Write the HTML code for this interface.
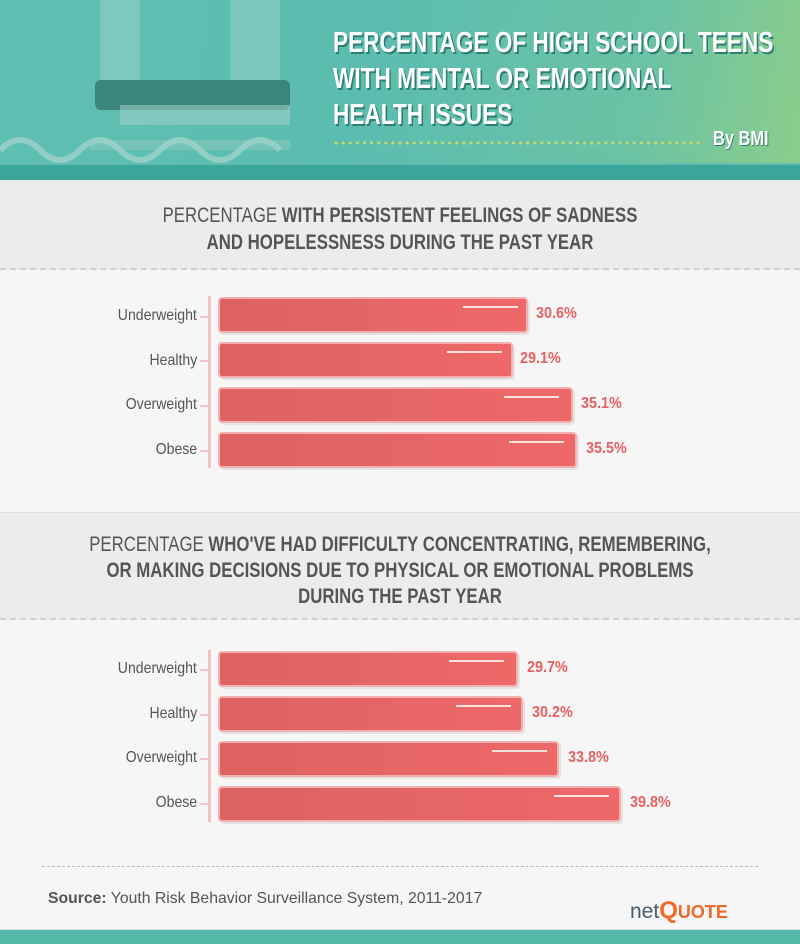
<!DOCTYPE html>
<html><head><meta charset="utf-8"><style>
*{margin:0;padding:0;box-sizing:border-box}
body{width:800px;height:944px;position:relative;overflow:hidden;background:#f6f6f6;font-family:"Liberation Sans",sans-serif}
.hdr{position:absolute;left:0;top:0;width:800px;height:180px;background:linear-gradient(100deg,#5fbfb3 0%,#5bbcb0 45%,#6cc3a4 80%,#8ccd8a 100%)}
.hdr .band{position:absolute;left:0;top:165px;width:800px;height:15px;background:#3aa69a}
.hdr .band2{position:absolute;left:0;top:163px;width:800px;height:3px;background:#62bdb0}
.title{position:absolute;left:333px;top:25px;color:#fff;font-weight:bold;font-size:29px;line-height:36px;text-shadow:2px 2px 0 #2e7d74;white-space:nowrap;transform:scaleX(0.78);transform-origin:left top}
.by{position:absolute;left:713px;top:128px;color:#fff;font-weight:bold;font-size:20px;text-shadow:1px 1px 0 #2e7d74;white-space:nowrap;transform:scaleX(0.82);transform-origin:left top}
.sec{position:absolute;left:0;width:800px;background:#ececec;border-bottom:2px dashed #cfcfcf;color:#555;font-size:21px;font-weight:bold}
.sec div{white-space:nowrap;text-align:center;transform:scaleX(0.8);transform-origin:center top}
.sec span{font-weight:normal}
.lab{position:absolute;right:603px;font-size:16px;color:#555;text-align:right;white-space:nowrap;transform:scaleX(0.88);transform-origin:right top}
.axis{position:absolute;left:208px;width:3px;background:#f3c3c3}
.tick{position:absolute;left:200px;width:8px;height:2px;background:#f3c3c3}
.bar{position:absolute;left:218px;height:36px;border-radius:4px;background:linear-gradient(90deg,#dd6262,#ee6868);border:2px solid #f4b0b0;box-shadow:2px 2px 0 #e4e4e4}
.hl{position:absolute;top:7px;height:2px;width:55px;background:#fbe0e0}
.val{position:absolute;font-size:16px;font-weight:bold;color:#e86161;white-space:nowrap;transform:scaleX(0.9);transform-origin:left top}
</style></head><body>
<div class="hdr">
<svg width="330" height="165" style="position:absolute;left:0;top:0">
<rect x="90" y="140" width="200" height="10" fill="#8fcac0" opacity=".5"/>
<rect x="95" y="80" width="195" height="30" rx="6" fill="#2f6d67" opacity=".7"/>
<rect x="120" y="105" width="170" height="20" fill="#a9d3cc" opacity=".5"/>
<path d="M0 150 Q20 130 40 150 T80 150 T120 150 T160 150 T200 150 T240 150 T280 150" stroke="#9fd2c9" stroke-width="6" fill="none" opacity=".8"/>
<rect x="100" y="0" width="40" height="80" fill="#9dd3cb" opacity=".5"/>
<rect x="230" y="0" width="50" height="80" fill="#9dd3cb" opacity=".5"/>
</svg>
<div class="title">PERCENTAGE OF HIGH SCHOOL TEENS<br>WITH MENTAL OR EMOTIONAL<br>HEALTH ISSUES</div>
<svg style="position:absolute;left:334px;top:140px" width="370" height="6"><line x1="2" y1="3" x2="368" y2="3" stroke="#c9dc6a" stroke-width="3" stroke-dasharray="0.1 7" stroke-linecap="round"/></svg>
<div class="by">By BMI</div>
<div class="band2"></div><div class="band"></div>
</div>

<div class="sec" style="top:180px;height:90px;padding-top:22px;line-height:27px"><div><span>PERCENTAGE</span> WITH PERSISTENT FEELINGS OF SADNESS<br>AND HOPELESSNESS DURING THE PAST YEAR</div></div>
<div class="axis" style="top:296px;height:172px"></div>

<div class="lab" style="top:307px">Underweight</div><div class="tick" style="top:316px"></div>
<div class="bar" style="top:297px;width:310px"><div class="hl" style="left:243px"></div></div><div class="val" style="left:536px;top:305px">30.6%</div>
<div class="lab" style="top:352px">Healthy</div><div class="tick" style="top:360px"></div>
<div class="bar" style="top:342px;width:295px"><div class="hl" style="left:227px"></div></div><div class="val" style="left:520px;top:350px">29.1%</div>
<div class="lab" style="top:396px">Overweight</div><div class="tick" style="top:405px"></div>
<div class="bar" style="top:387px;width:355px"><div class="hl" style="left:284px"></div></div><div class="val" style="left:581px;top:395px">35.1%</div>
<div class="lab" style="top:441px">Obese</div><div class="tick" style="top:450px"></div>
<div class="bar" style="top:432px;width:359px"><div class="hl" style="left:289px"></div></div><div class="val" style="left:586px;top:440px">35.5%</div>

<div class="sec" style="top:512px;height:108px;padding-top:19px;line-height:26px;border-top:1px solid #e0e0e0"><div><span>PERCENTAGE</span> WHO'VE HAD DIFFICULTY CONCENTRATING, REMEMBERING,<br>OR MAKING DECISIONS DUE TO PHYSICAL OR EMOTIONAL PROBLEMS<br>DURING THE PAST YEAR</div></div>
<div class="axis" style="top:650px;height:172px"></div>

<div class="lab" style="top:660px">Underweight</div><div class="tick" style="top:669px"></div>
<div class="bar" style="top:651px;width:300px"><div class="hl" style="left:229px"></div></div><div class="val" style="left:527px;top:659px">29.7%</div>
<div class="lab" style="top:705px">Healthy</div><div class="tick" style="top:714px"></div>
<div class="bar" style="top:696px;width:305px"><div class="hl" style="left:236px"></div></div><div class="val" style="left:532px;top:704px">30.2%</div>
<div class="lab" style="top:749px">Overweight</div><div class="tick" style="top:758px"></div>
<div class="bar" style="top:741px;width:341px"><div class="hl" style="left:272px"></div></div><div class="val" style="left:568px;top:749px">33.8%</div>
<div class="lab" style="top:794px">Obese</div><div class="tick" style="top:803px"></div>
<div class="bar" style="top:786px;width:403px"><div class="hl" style="left:334px"></div></div><div class="val" style="left:630px;top:794px">39.8%</div>

<div style="position:absolute;left:42px;top:866px;width:716px;border-top:1px dashed #bbb"></div>
<div style="position:absolute;left:48px;top:890px;font-size:16px;color:#555;white-space:nowrap;transform:scaleX(0.985);transform-origin:left top"><b>Source:</b> Youth Risk Behavior Surveillance System, 2011-2017</div>
<div style="position:absolute;left:630px;top:897px;font-size:21px;color:#4b5d6e;white-space:nowrap">net<span style="color:#f0682a;font-weight:bold;font-size:24px">Q</span><span style="color:#f0682a;font-weight:bold;font-size:18px">UOTE</span></div>
<div style="position:absolute;left:0;top:929px;width:800px;height:15px;background:#55b9a9;border-top:1px solid #d8d8d8"></div>
</body></html>
